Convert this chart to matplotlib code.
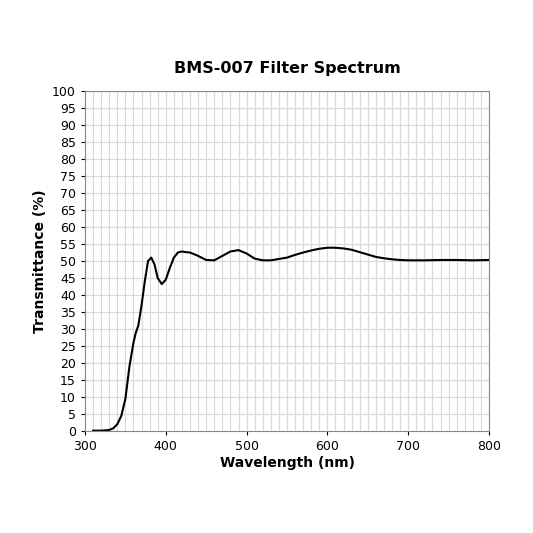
import matplotlib
matplotlib.use("Agg")
import matplotlib.pyplot as plt
import numpy as np

wl = [310,320,330,335,340,345,350,355,360,363,366,370,374,378,382,386,390,395,400,405,410,415,420,425,430,440,450,460,470,480,490,500,510,520,530,540,550,560,570,580,590,600,610,620,630,640,650,660,670,680,690,700,720,740,760,780,800]
tr = [0.1,0.1,0.3,0.8,2.0,4.5,9.5,19,26,29,31,37,44,50,51,49,45,43.2,44.5,48,51,52.5,52.8,52.6,52.5,51.5,50.3,50.2,51.5,52.8,53.2,52.2,50.7,50.2,50.2,50.6,51.0,51.8,52.5,53.1,53.6,53.9,53.9,53.7,53.3,52.6,51.9,51.2,50.8,50.5,50.3,50.2,50.2,50.3,50.3,50.2,50.3]

fig = plt.figure(figsize=(5.33,5.33), dpi=100)
ax = fig.add_axes([85/533, 1-431/533, 404/533, 340/533])
ax.plot(wl, tr, color='black', lw=1.5)
ax.set_xlim(300,800); ax.set_ylim(0,100)
ax.set_xticks(range(300,801,100)); ax.set_yticks(range(0,101,5))
ax.set_xticks(range(300,801,10), minor=True)
ax.grid(True, which='both', color='#d9d9d9', lw=0.8)
ax.tick_params(which='minor', length=0)
ax.tick_params(labelsize=9, length=3)
ax.set_axisbelow(True)
for s in ax.spines.values(): s.set_color('#888888')
ax.set_xlabel('Wavelength (nm)', fontsize=10, fontweight='bold', labelpad=2)
ax.set_ylabel('Transmittance (%)', fontsize=10, fontweight='bold')
fig.text(287/533, 1-68/533, 'BMS-007 Filter Spectrum', ha='center', va='center', fontsize=11.5, fontweight='bold')
fig.savefig('out.png', dpi=100)
